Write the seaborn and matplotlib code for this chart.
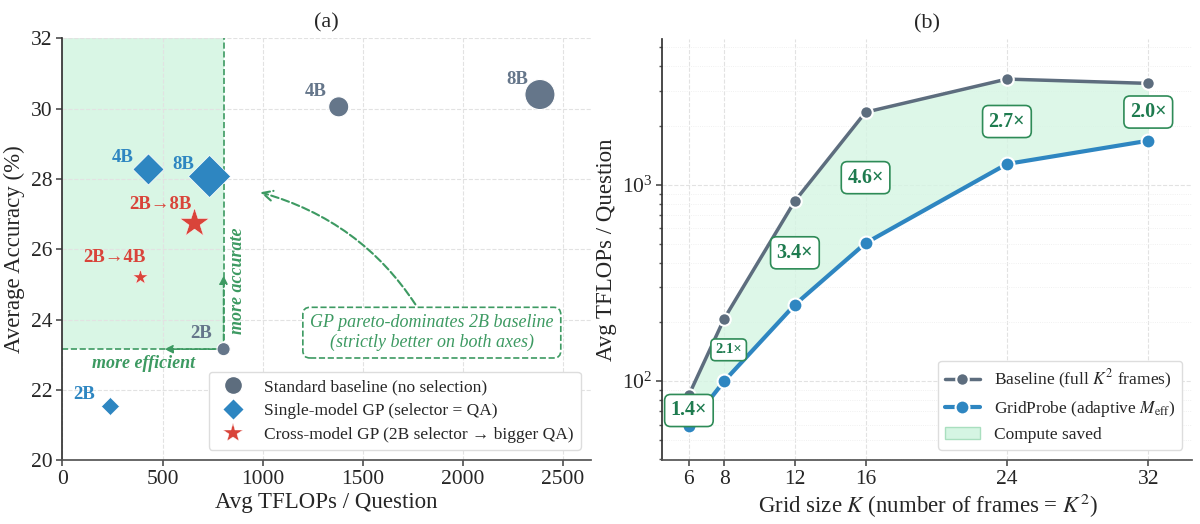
import matplotlib
matplotlib.use("Agg")
import matplotlib.pyplot as plt
from matplotlib.lines import Line2D
from matplotlib.patches import Patch
import numpy as np
import pandas as pd
import seaborn as sns

# ---- panel (a): accuracy vs compute ----
base_labels = ["2B", "4B", "8B"]
base_tflops = [805, 1380, 2385]
base_acc = [23.16, 30.05, 30.4]
base_sizes = [90, 210, 470]

single_labels = ["2B", "4B", "8B"]
single_tflops = [240, 430, 735]
single_acc = [21.53, 28.27, 28.07]
single_sizes = [85, 250, 460]

cross_labels = ["2B→4B", "2B→8B"]
cross_tflops = [390, 660]
cross_acc = [25.2, 26.74]
cross_sizes = [130, 480]

# ---- panel (b): compute vs grid size ----
grid_k = [6, 8, 12, 16, 24, 32]
baseline_tflops = [85, 208, 826, 2340, 3450, 3280]
gridprobe_tflops = [59, 100, 245, 504, 1275, 1675]

GRAY = "#65768a"
GRAY_LINE = "#5d6d7e"
BLUE = "#2e86c1"
RED = "#d9443a"
GREEN = "#3d9a62"
DARK_GREEN = "#1e7b4f"
MINT = "#d5f5e3"

sns.set_theme(style="whitegrid")
plt.rcParams["font.family"] = ["Liberation Serif", "DejaVu Serif"]
plt.rcParams["mathtext.fontset"] = "stix"
plt.rcParams["grid.linestyle"] = "--"
plt.rcParams["grid.color"] = "#e2e2e2"
plt.rcParams["grid.linewidth"] = 0.8

fig = plt.figure(figsize=(12, 5.24), dpi=100)
ax1 = fig.add_axes([0.052, 0.1216, 0.4405, 0.8054])
ax2 = fig.add_axes([0.552, 0.1216, 0.4417, 0.8034])

# ---------------- (a) ----------------
x_pareto, y_pareto = base_tflops[0], base_acc[0]
ax1.fill_between([0, x_pareto], y_pareto, 32, color=MINT, alpha=0.9, zorder=0, lw=0)
ax1.plot([x_pareto, x_pareto], [y_pareto, 32], ls="--", color=GREEN, lw=1.2, zorder=1)
ax1.plot([0, x_pareto], [y_pareto, y_pareto], ls="--", color=GREEN, lw=1.2, zorder=1)

sns.scatterplot(x=base_tflops, y=base_acc, s=base_sizes, color=GRAY, marker="o",
                edgecolor="white", linewidth=0.8, ax=ax1, zorder=4)
sns.scatterplot(x=single_tflops, y=single_acc, s=single_sizes, color=BLUE, marker="D",
                edgecolor="white", linewidth=0.5, ax=ax1, zorder=4)
sns.scatterplot(x=cross_tflops, y=cross_acc, s=cross_sizes, color=RED, marker="*",
                edgecolor="white", linewidth=0.3, ax=ax1, zorder=4)

for lab, x, y in zip(base_labels, base_tflops, base_acc):
    ax1.annotate(lab, (x, y), xytext=(-16.5, 11), textcoords="offset points",
                 ha="center", va="center", fontsize=13.5, fontweight="bold", color=GRAY)
for lab, x, y in zip(single_labels, single_tflops, single_acc):
    ax1.annotate(lab, (x, y), xytext=(-18.7, 8.6), textcoords="offset points",
                 ha="center", va="center", fontsize=13.5, fontweight="bold", color=BLUE)
cross_offsets = [(-18.7, 14.4), (-24.5, 13.7)]
for lab, x, y, off in zip(cross_labels, cross_tflops, cross_acc, cross_offsets):
    ax1.annotate(lab, (x, y), xytext=off, textcoords="offset points",
                 ha="center", va="center", fontsize=13.5, fontweight="bold", color=RED)

ax1.annotate("", xy=(510, y_pareto), xytext=(x_pareto, y_pareto),
             arrowprops=dict(arrowstyle="-|>", color=GREEN, lw=1.2, ls="--",
                             mutation_scale=12, shrinkA=0, shrinkB=0), zorder=2)
ax1.annotate("", xy=(x_pareto, 25.25), xytext=(x_pareto, y_pareto),
             arrowprops=dict(arrowstyle="-|>", color=GREEN, lw=1.2, ls="--",
                             mutation_scale=12, shrinkA=0, shrinkB=0), zorder=2)
ax1.text(404, 22.74, "more efficient", ha="center", va="center", fontsize=13,
         fontweight="bold", style="italic", color=GREEN)
ax1.text(874, 25.1, "more accurate", ha="center", va="center", fontsize=13,
         fontweight="bold", style="italic", color=GREEN, rotation=90)

ax1.annotate("GP pareto-dominates 2B baseline\n(strictly better on both axes)",
             xy=(975, 27.64), xytext=(1845, 23.63), ha="center", va="center",
             fontsize=13, style="italic", color=GREEN, linespacing=1.15,
             bbox=dict(boxstyle="round,pad=0.4", fc="white", ec=GREEN, ls="--", lw=1.2),
             arrowprops=dict(arrowstyle="->", color=GREEN, lw=1.5, ls="--",
                             connectionstyle="arc3,rad=0.22", mutation_scale=18))

ax1.set_xlim(0, 2640)
ax1.set_ylim(20, 32)
ax1.set_xticks(np.arange(0, 2501, 500))
ax1.set_yticks(np.arange(20, 33, 2))
ax1.set_xlabel("Avg TFLOPs / Question", fontsize=16.5, labelpad=2)
ax1.set_ylabel("Average Accuracy (%)", fontsize=16.5, labelpad=4)
ax1.set_title("(a)", fontsize=16, pad=8)

legend_a = [
    Line2D([], [], ls="none", marker="o", ms=13, color=GRAY_LINE, mec="white",
           label="Standard baseline (no selection)"),
    Line2D([], [], ls="none", marker="D", ms=11, color=BLUE, mec="white",
           label="Single-model GP (selector = QA)"),
    Line2D([], [], ls="none", marker="*", ms=15, color=RED, mec="white", mew=0.3,
           label="Cross-model GP (2B selector → bigger QA)"),
]
ax1.legend(handles=legend_a, loc="lower right", fontsize=12.5, frameon=True,
           framealpha=1, edgecolor="#dddddd", borderaxespad=0.6, labelspacing=0.45)

# ---------------- (b) ----------------
ax2.fill_between(grid_k, gridprobe_tflops, baseline_tflops, color=MINT, alpha=0.8,
                 lw=0, zorder=1)
sns.lineplot(x=grid_k, y=baseline_tflops, color=GRAY_LINE, lw=2.5, marker="o", ms=9,
             mec="white", mew=1.5, ax=ax2, zorder=3)
sns.lineplot(x=grid_k, y=gridprobe_tflops, color=BLUE, lw=3, marker="o", ms=10,
             mec="white", mew=1.5, ax=ax2, zorder=3)

for k, b, g in zip(grid_k, baseline_tflops, gridprobe_tflops):
    ratio = b / g
    small = (k == 8)
    ax2.text(k + (0.25 if small else 0), np.sqrt(b * g), f"{ratio:.1f}×",
             ha="center", va="center", fontsize=10.5 if small else 14.5,
             fontweight="bold", color=DARK_GREEN, zorder=5,
             bbox=dict(boxstyle="round,pad=0.3", fc="white", ec="#2e8b57", lw=1.2))

ax2.set_yscale("log")
ax2.set_xlim(4.5, 34.5)
ax2.set_ylim(39.5, 5500)
ax2.set_xticks(grid_k)
ax2.grid(True, which="major", ls="--", color="#e2e2e2", lw=0.8)
ax2.grid(True, which="minor", ls=":", color="#ececec", lw=0.6)
ax2.set_xlabel("Grid size $K$ (number of frames = $K^2$)", fontsize=16.5, labelpad=2)
ax2.set_ylabel("Avg TFLOPs / Question", fontsize=16.5, labelpad=4)
ax2.set_title("(b)", fontsize=16, pad=8)

legend_b = [
    Line2D([], [], color=GRAY_LINE, lw=2.5, marker="o", ms=9, mec="white", mew=1.5,
           label="Baseline (full $K^2$ frames)"),
    Line2D([], [], color=BLUE, lw=3, marker="o", ms=10, mec="white", mew=1.5,
           label="GridProbe (adaptive $M_{\\mathrm{eff}}$)"),
    Patch(fc=MINT, ec="#a9dfbf", label="Compute saved"),
]
ax2.legend(handles=legend_b, loc="lower right", fontsize=12.5, frameon=True,
           framealpha=1, edgecolor="#dddddd", borderaxespad=0.6, labelspacing=0.45)

for ax in (ax1, ax2):
    sns.despine(ax=ax)
    ax.spines["left"].set_color("#333333")
    ax.spines["bottom"].set_color("#555555")
    ax.tick_params(axis="both", which="major", labelsize=15.5, length=4, left=True,
                   bottom=True, color="#555555", pad=3)
ax2.tick_params(axis="y", which="minor", length=2.5, left=True, color="#555555")

fig.savefig("out.png", dpi=100)
